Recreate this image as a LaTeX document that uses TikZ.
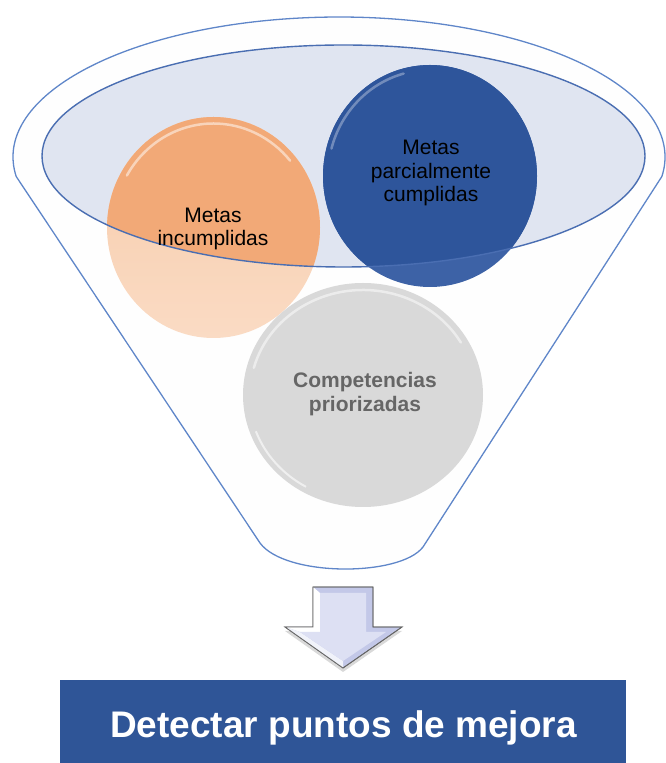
\documentclass[tikz,border=0pt]{standalone}
\usepackage{fontspec}
\setmainfont{Liberation Sans}
\usetikzlibrary{shadows}
\definecolor{funnelblue}{HTML}{5F86C9}
\definecolor{rimblue}{HTML}{4A6EB2}
\definecolor{rimfill}{HTML}{E0E5F1}
\definecolor{orangein}{HTML}{F2A977}
\definecolor{orangeout}{HTML}{F8CBA9}
\definecolor{orangelow}{HTML}{FADBC4}
\definecolor{darkblue}{HTML}{2E559B}
\definecolor{darkblueout}{HTML}{3D62A6}
\definecolor{lightgray}{HTML}{D9D9D9}
\definecolor{textgray}{HTML}{666666}
\definecolor{boxblue}{HTML}{2F5597}
\definecolor{arrowface}{HTML}{DDE0F3}
\definecolor{arrowdark}{HTML}{C3C8E8}
\tikzset{
  circletext/.style={align=center, font=\fontsize{21}{23.5}\selectfont, inner sep=0pt},
  outline/.style={draw=funnelblue, line width=1.3pt, line join=round},
  gloss/.style={white, opacity=0.5, line width=2.5pt, line cap=round},
}
\begin{document}
\begin{tikzpicture}[x=1pt,y=1pt]
\useasboundingbox (0,0) rectangle (665,763);
% funnel body
\fill[white!96!rimfill] (16.2,586.5) arc[start angle=188,end angle=-8,x radius=326,y radius=140] -- (423,216) .. controls (400,186) and (285,186) .. (260,220) -- cycle;
% inner ellipse fill
\fill[rimfill] (343.5,607) ellipse[x radius=301.5, y radius=111];
% circles (lighter parts below the rim)
\shade[top color=orangeout, bottom color=orangelow] (213.5,535.5) ellipse[x radius=106.5, y radius=110.5];
\fill[darkblueout] (430,587) ellipse[x radius=107, y radius=111];
\begin{scope}
  \clip (343.5,607) ellipse[x radius=301.5, y radius=111];
  \fill[orangein] (213.5,535.5) ellipse[x radius=106.5, y radius=110.5];
  \fill[darkblue] (430,587) ellipse[x radius=107, y radius=111];
\end{scope}
\draw[gloss] (213.5,535.5) ++(150:100 and 104) arc[start angle=150, end angle=40, x radius=100, y radius=104];
\draw[white!40!darkblue, opacity=0.8, line width=2.5pt, line cap=round] (430,587) ++(165:102 and 106) arc[start angle=165, end angle=105, x radius=102, y radius=106];
\fill[lightgray] (363,368) ellipse[x radius=120, y radius=112];
\draw[gloss] (363,368) ++(165:113 and 105) arc[start angle=165, end angle=30, x radius=113, y radius=105];
\draw[white, opacity=0.6, line width=2pt] (363,368) ++(200:114 and 106) arc[start angle=200, end angle=240, x radius=114, y radius=106];
% outlines
\draw[outline] (16.2,586.5) arc[start angle=188,end angle=-8,x radius=326,y radius=140] -- (423,216) .. controls (400,186) and (285,186) .. (260,220) -- cycle;
\draw[draw=rimblue, line width=1.4pt] (343.5,607) ellipse[x radius=301.5, y radius=111];
% texts
\node[circletext, text=black] (incumplidas) at (213,534) {Metas\\incumplidas};
\node[circletext, text=black] (parcial) at (431,590) {Metas\\parcialmente\\cumplidas};
\node[circletext, text=textgray, font=\bfseries\fontsize{21}{23.5}\selectfont] (competencias) at (365,369) {Competencias\\priorizadas};
% block arrow
\path[fill=arrowdark, draw=gray!80!black, line width=0.8pt, line join=miter,
      drop shadow={shadow xshift=0pt, shadow yshift=-4pt, opacity=0.3}]
  (313,176) -- (373,176) -- (373,136) -- (402,136) -- (343,95) -- (285,136) -- (313,136) -- cycle;
\fill[white] (313,176) -- (320,170) -- (320,131) -- (300,131) -- (285,136) -- (313,136) -- cycle;
\fill[white!60!arrowface] (285,136) -- (300,131) -- (343,102) -- (343,95) -- cycle;
\fill[arrowface] (320,170) -- (366,170) -- (366,131) -- (386,131) -- (343,102) -- (300,131) -- (320,131) -- cycle;
\draw[gray!80!black, line width=0.8pt, line join=miter]
  (313,176) -- (373,176) -- (373,136) -- (402,136) -- (343,95) -- (285,136) -- (313,136) -- cycle;
% result box
\fill[boxblue] (60,0) rectangle (626,83);
\node[text=white, font=\bfseries\fontsize{37}{40}\selectfont, anchor=base, inner sep=0pt] (mejora) at (343.5,25) {Detectar puntos de mejora};
\end{tikzpicture}
\end{document}
